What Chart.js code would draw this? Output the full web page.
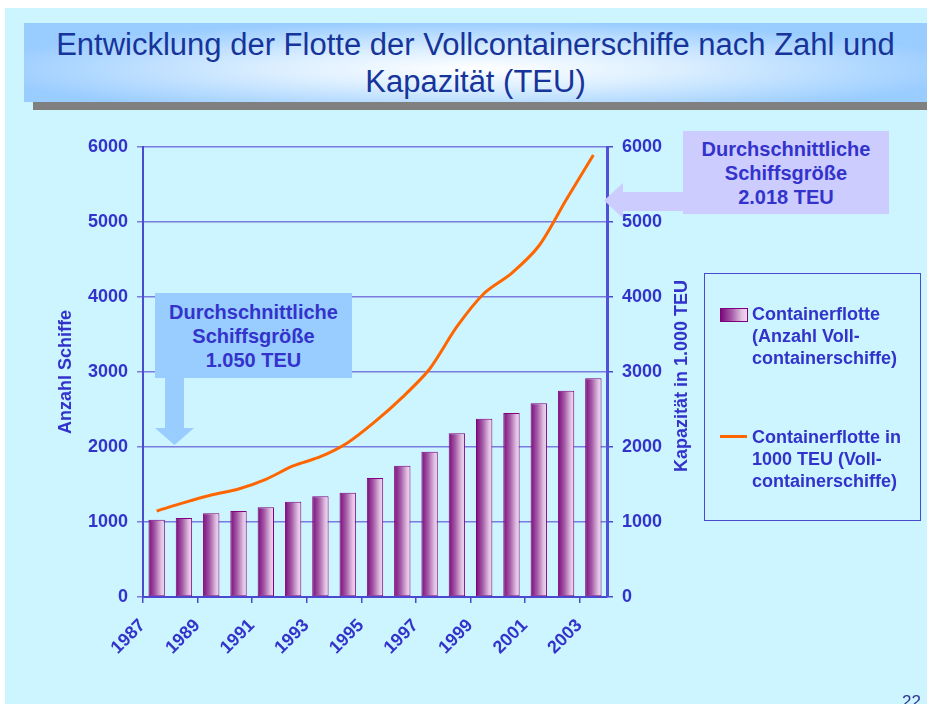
<!DOCTYPE html>
<html lang="de">
<head>
<meta charset="utf-8">
<title>Entwicklung der Flotte der Vollcontainerschiffe</title>
<script src="https://cdn.jsdelivr.net/npm/chart.js@4.4.1/dist/chart.umd.min.js"></script>
<style>
  html, body { margin: 0; padding: 0; background: #fff; }
  #slide { position: relative; width: 927px; height: 704px; overflow: hidden; background: #fff;
           font-family: "Liberation Sans", Arial, sans-serif; }
  #bg { position: absolute; left: 5px; top: 8px; right: 0; bottom: 0; background: #ccf5ff; }
  #shadow { position: absolute; left: 33px; top: 31px; width: 894px; height: 79px; background: #808080; }
  #band { position: absolute; left: 24px; top: 23px; width: 903px; height: 79px;
          background: radial-gradient(ellipse 55% 60% at 50% 58%, #ffffff 0%, #dcefff 40%, #99ccff 100%); }
  #title { position: absolute; left: 24px; top: 26px; width: 903px; text-align: center;
           font-size: 31px; line-height: 37px; color: #17349a; }
  #chart { position: absolute; left: 0; top: 0; }
  .box { position: absolute; display: flex; align-items: center; justify-content: center; text-align: center;
         font-weight: bold; font-size: 20px; line-height: 24px; color: #3333cc; }
  .shape { position: absolute; }
  #legend { position: absolute; left: 704px; top: 273px; width: 215px; height: 246px;
            border: 1.5px solid #4a4ad0; }
  .item { position: absolute; left: 752px; font-weight: bold; font-size: 18px; line-height: 22px; color: #3333cc; }
  #ytitle2 { position: absolute; left: 681px; top: 376px; transform: translate(-50%, -50%) rotate(-90deg);
             white-space: nowrap; font-weight: bold; font-size: 18px; line-height: 22px; color: #3333cc; }
  #page { position: absolute; left: 902px; top: 692px; font-size: 17px; color: #333399; }
</style>
</head>
<body>
<div id="slide">
  <div id="bg"></div>
  <div id="shadow"></div>
  <div id="band"></div>
  <div id="title">Entwicklung der Flotte der Vollcontainerschiffe nach Zahl und<br>Kapazität (TEU)</div>

  <canvas id="chart" width="927" height="704"></canvas>

  <!-- left note: 1987 -->
  <div class="shape" style="left:165px;top:377px;width:19px;height:52px;background:#99ccff"></div>
  <div class="shape" style="left:155px;top:428px;width:39px;height:17px;background:#99ccff;clip-path:polygon(0 0,100% 0,50% 100%)"></div>
  <div class="box" style="left:155px;top:293px;width:197px;height:85px;background:#99ccff">Durchschnittliche<br>Schiffsgröße<br>1.050 TEU</div>

  <!-- right note: 2003 -->
  <div class="shape" style="left:622px;top:192px;width:62px;height:19px;background:#ccccff"></div>
  <div class="shape" style="left:604px;top:183px;width:19px;height:35px;background:#ccccff;clip-path:polygon(0 50%,100% 0,100% 100%)"></div>
  <div class="box" style="left:683px;top:131px;width:206px;height:83px;background:#ccccff">Durchschnittliche<br>Schiffsgröße<br>2.018 TEU</div>

  <div id="legend"></div>
  <div class="shape" style="left:720px;top:308px;width:26px;height:12px;border:1px solid #800080;background:linear-gradient(90deg,#7a0a7a,#a45aa6 40%,#e2c2e2 80%,#efd8ef)"></div>
  <div class="item" style="top:303px">Containerflotte<br>(Anzahl Voll-<br>containerschiffe)</div>
  <div class="shape" style="left:720px;top:435px;width:27px;height:3px;background:#ff6600"></div>
  <div class="item" style="top:426px">Containerflotte in<br>1000 TEU (Voll-<br>containerschiffe)</div>

  <div id="ytitle2">Kapazität in 1.000 TEU</div>
  <div id="page">22</div>
</div>

<script>
const years = ['1987', '1988', '1989', '1990', '1991', '1992', '1993', '1994', '1995',
               '1996', '1997', '1998', '1999', '2000', '2001', '2002', '2003'];
// Anzahl Vollcontainerschiffe
const shipCount = [1030, 1053, 1116, 1147, 1196, 1271, 1342, 1391, 1587,
                   1751, 1938, 2182, 2378, 2453, 2582, 2751, 2916];
// Kapazität in 1000 TEU
const capacityKTEU = [1147, 1258, 1360, 1440, 1569, 1747, 1871, 2058, 2338,
                      2662, 3040, 3604, 4050, 4316, 4680, 5293, 5893];
const axisTicks = [0, 1000, 2000, 3000, 4000, 5000, 6000];

const textColor = '#3333cc';
const axisColor = '#4a4ad0';
const tickFont = { family: '"Liberation Sans", Arial, sans-serif', size: 18, weight: 'bold' };
const barPct = 0.6;

// purple "cylinder" fill, one gradient per bar
function barFill(ctx) {
  const chart = ctx.chart;
  const xs = chart.scales.x;
  if (!chart.chartArea || !xs || ctx.dataIndex === undefined) return '#a050a0';
  const cx = xs.getPixelForValue(ctx.dataIndex);
  const half = xs.width / years.length * barPct / 2;
  const g = chart.ctx.createLinearGradient(cx - half, 0, cx + half, 0);
  g.addColorStop(0, '#7a0a7a');
  g.addColorStop(0.4, '#a45aa6');
  g.addColorStop(0.8, '#e2c2e2');
  g.addColorStop(1, '#efd8ef');
  return g;
}

const fixTicks = (scale) => { scale.ticks = axisTicks.map(v => ({ value: v })); };
const plainNumber = (v) => String(v);

new Chart(document.getElementById('chart'), {
  type: 'bar',
  data: {
    labels: years,
    datasets: [
      {
        type: 'line',
        label: 'Containerflotte in 1000 TEU (Vollcontainerschiffe)',
        data: capacityKTEU,
        yAxisID: 'y2',
        borderColor: '#ff6600',
        borderWidth: 3,
        pointRadius: 0,
        tension: 0.3,
        order: 0
      },
      {
        label: 'Containerflotte (Anzahl Vollcontainerschiffe)',
        data: shipCount,
        yAxisID: 'y',
        backgroundColor: barFill,
        borderColor: '#800080',
        borderWidth: 1,
        borderSkipped: false,
        categoryPercentage: 1,
        barPercentage: barPct,
        order: 1
      }
    ]
  },
  options: {
    responsive: false,
    animation: false,
    layout: { padding: { left: 51, right: 232, top: 147, bottom: 0 } },
    plugins: { legend: { display: false }, tooltip: { enabled: false } },
    scales: {
      x: {
        grid: {
          drawOnChartArea: false,
          tickLength: 6,
          color: (c) => (c.index % 2 === 0 ? axisColor : 'rgba(0,0,0,0)'),
          lineWidth: 1.5
        },
        border: { color: axisColor, width: 2 },
        ticks: {
          color: textColor,
          font: tickFont,
          autoSkip: false,
          minRotation: 45,
          maxRotation: 45,
          labelOffset: -14,
          padding: 12,
          callback: (v, i) => (i % 2 === 0 ? years[i] : '')
        },
        afterFit: (s) => { s.height = 107; }
      },
      y: {
        position: 'left',
        min: 0,
        max: 6000,
        afterBuildTicks: fixTicks,
        grid: { color: '#7b7be0', lineWidth: 1.5, tickLength: 6 },
        border: { color: axisColor, width: 2 },
        ticks: { color: textColor, font: tickFont, padding: 9, callback: plainNumber },
        title: {
          display: true,
          text: 'Anzahl Schiffe',
          color: textColor,
          font: tickFont,
          padding: { top: 4, bottom: 4 }
        },
        afterFit: (s) => { s.width = 92; }
      },
      y2: {
        position: 'right',
        min: 0,
        max: 6000,
        afterBuildTicks: fixTicks,
        grid: { drawOnChartArea: false, color: axisColor, lineWidth: 1.5, tickLength: 6 },
        border: { color: '#5050d8', width: 3 },
        ticks: { color: textColor, font: tickFont, padding: 9, callback: plainNumber },
        afterFit: (s) => { s.width = 88; }
      }
    }
  }
});
</script>
</body>
</html>
